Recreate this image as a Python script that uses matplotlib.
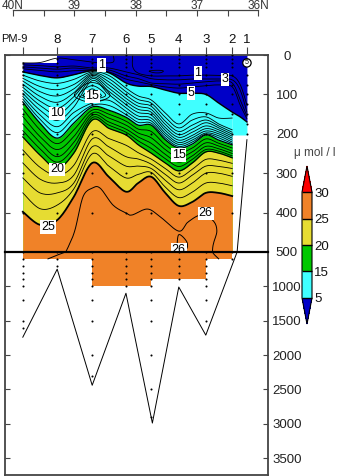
import numpy as np
import matplotlib
matplotlib.use("Agg")
from matplotlib import pyplot as plt
from matplotlib.colors import ListedColormap, BoundaryNorm
from matplotlib.cm import ScalarMappable

plt.rcParams['font.family'] = ['Liberation Sans', 'DejaVu Sans']

W, H = 352, 476

# stations (latitude, north)
station_names = ['', '8', '7', '6', '5', '4', '3', '2', '1']
station_lat = [39.84, 39.28, 38.71, 38.16, 37.75, 37.30, 36.86, 36.43, 36.19]

# latitude of the columns the isolines were read at
cols = [39.84, 39.56, 39.28, 39.01, 38.71, 38.44, 38.16, 37.96, 37.75, 37.52, 37.30, 37.08, 36.86, 36.65, 36.43]
cols_ext = cols + [36.30, 36.19]

# depth (m) of each isoline
L2 = [25, 27, 30, 28, 33, 33, 43, 50, 60, 63, 63, 61, 61, 61, 63, 89, 145]
L3 = [30, 33, 36, 33, 37, 38, 53, 60, 71, 73, 74, 71, 68, 66, 71, 114, 155]
L4 = [35, 39, 43, 40, 39, 43, 61, 68, 75, 81, 84, 81, 78, 76, 81, 127, 162]
L5 = [43, 52, 58, 50, 40, 45, 71, 79, 80, 89, 97, 97, 100, 122, 145, 157, 170]

iso = {
    6: [51, 66, 72, 62, 43, 52, 84, 104, 114, 147, 175, 150, 147, 160, 160],
    7: [59, 80, 88, 75, 46, 60, 93, 113, 122, 158, 185, 165, 157, 175, 190],
    8: [66, 93, 104, 86, 49, 68, 102, 122, 130, 168, 194, 178, 165, 180, 196],
    9: [74, 105, 120, 96, 52, 76, 110, 130, 138, 176, 202, 188, 172, 185, 201],
    10: [82, 117, 135, 106, 56, 84, 118, 138, 145, 184, 209, 196, 180, 190, 206],
    11: [90, 128, 150, 118, 60, 92, 126, 146, 152, 191, 216, 204, 187, 195, 211],
    12: [97, 140, 166, 132, 65, 100, 134, 155, 160, 198, 222, 210, 193, 200, 216],
    13: [105, 152, 182, 146, 122, 115, 143, 163, 167, 204, 227, 216, 198, 205, 221],
    14: [112, 163, 197, 160, 128, 128, 151, 171, 173, 210, 232, 221, 201, 210, 225],
    15: [119, 173, 211, 173, 132, 140, 158, 178, 178, 215, 236, 226, 203, 216, 228],
    16: [137, 190, 225, 190, 140, 150, 168, 188, 194, 228, 248, 236, 213, 224, 236],
    17: [156, 207, 240, 207, 147, 160, 178, 198, 210, 240, 260, 246, 223, 231, 244],
    18: [175, 222, 258, 222, 153, 170, 188, 208, 224, 252, 272, 256, 232, 238, 250],
    19: [192, 238, 272, 236, 159, 178, 196, 218, 237, 263, 283, 265, 240, 244, 256],
    20: [208, 254, 287, 249, 165, 186, 203, 228, 249, 274, 294, 274, 246, 249, 261],
    21: [241, 285, 305, 280, 195, 212, 229, 248, 264, 288, 310, 290, 265, 267, 275],
    22: [274, 315, 325, 305, 213, 233, 258, 264, 277, 303, 325, 305, 282, 283, 288],
    23: [312, 350, 350, 325, 233, 256, 282, 282, 288, 318, 342, 325, 300, 300, 308],
    24: [350, 390, 381, 340, 251, 282, 312, 303, 298, 335, 362, 348, 325, 325, 332],
    25: [398, 431, 419, 360, 274, 309, 347, 325, 309, 350, 383, 373, 350, 350, 358],
}

# level 1 comes in two pieces, both reach the surface
l1_left_lat = [39.84, 39.56, 39.28, 39.01, 38.71, 38.58, 38.37, 38.37]
l1_left_d = [20, 19, 8, 12, 18, 20, 18, 0]
l1_right_lat = [38.05, 38.05, 37.96, 37.75, 37.52, 37.30, 37.08, 36.86, 36.65, 36.43, 36.30, 36.19]
l1_right_d = [0, 30, 46, 53, 53, 53, 51, 51, 52, 53, 75, 127]

# closed loops
core_lat = [
    [39.00, 38.86, 38.71, 38.56, 38.42, 38.56, 38.71, 38.86],
    [38.93, 38.82, 38.71, 38.60, 38.49, 38.60, 38.71, 38.82],
    [38.86, 38.78, 38.71, 38.64, 38.56, 38.64, 38.71, 38.78],
]
core_d = [
    [102, 78, 70, 78, 102, 116, 118, 116],
    [102, 85, 78, 85, 102, 110, 112, 110],
    [103, 92, 86, 92, 103, 107, 108, 107],
]
blob_lat = [37.78, 37.70, 37.60, 37.55, 37.60, 37.70]
blob_d = [41, 39, 39, 41, 45, 45]
l26_blob_lat = [37.33, 37.30, 37.17, 37.18, 37.33]
l26_blob_d = [490, 456, 474, 493, 490]

l26_lat = [39.43, 39.28, 39.10, 38.99, 38.86, 38.71, 38.58, 38.37, 38.16, 38.06, 37.81, 37.60, 37.30,
           37.15, 36.94, 36.75, 36.68, 36.75, 36.65]
l26_d = [600, 545, 487, 444, 360, 338, 338, 381, 401, 406, 391, 411, 447, 424, 406, 419, 447, 500, 600]

# bottom
bottom_lat = [39.84, 39.28, 38.71, 38.16, 37.73, 37.30, 36.86, 36.35, 36.19]
bottom_d = [1740, 750, 2440, 1100, 2990, 1010, 1710, 500, 215]

# lower limit of the sections below 500 m
deep_edges = [39.84, 38.71, 37.75, 36.86, 36.43]
deep_limit = [600, 1000, 900, 600]

sample_depth = [
    [20, 30, 40, 50, 75, 100, 125, 150, 200, 250, 300, 400, 500, 600, 700, 800, 900, 1000, 1200, 1500, 1600],
    [10, 20, 30, 50, 75, 100, 125, 150, 200, 250, 300, 400, 500, 600, 700],
    [10, 20, 30, 40, 50, 75, 100, 125, 150, 200, 300, 400, 500, 600, 700, 800, 900, 1000, 1200, 1500, 2000, 2300],
    [0, 10, 20, 30, 50, 75, 100, 125, 150, 200, 300, 400, 500, 600, 700, 800, 900, 1000],
    [0, 10, 20, 30, 50, 75, 100, 125, 150, 200, 300, 400, 500, 600, 700, 800, 900, 1000, 1200, 1500, 2000, 2500, 2900],
    [0, 10, 20, 30, 50, 75, 100, 125, 150, 200, 300, 400, 500, 600, 700, 800, 900],
    [0, 10, 20, 30, 50, 75, 100, 125, 150, 200, 300, 400, 500, 600, 700, 800, 900, 1000, 1200, 1500],
    [0, 10, 20, 30, 50, 75, 100, 125, 150, 200, 300, 400, 500, 600],
    [50, 75, 100, 125, 150, 175, 200],
]

lat_ticks = [40, 39.5, 39, 38.5, 38, 37.5, 37, 36.5, 36]
lat_labels = ['40N', '', '39', '', '38', '', '37', '', '36N']
upper_ticks = [0, 100, 200, 300, 400, 500]
lower_ticks = [1000, 1500, 2000, 2500, 3000, 3500]

bar_levels = [5, 15, 20, 25, 30]
bar_colors = ['#0000C8', '#40FFFF', '#00C800', '#E6DC32', '#F08228', '#FF0000']

labels = [
    (38.56, 26, '1'), (36.99, 46, '1'), (36.55, 62, '3'), (37.10, 97, '5'), (38.71, 105, '15'),
    (39.28, 148, '10'), (39.28, 290, '20'), (39.43, 437, '25'), (37.30, 254, '15'), (36.86, 402, '26'),
    (37.30, 494, '26'),
]

BLUE, CYAN, GREEN, YELLOW, ORANGE, RED = bar_colors


def axes_px(left, top, right, bottom):
    return fig.add_axes([left / W, 1 - bottom / H, (right - left) / W, (bottom - top) / H])


def smooth(x, y, closed=False, n=12):
    # catmull-rom through the points
    x, y = np.asarray(x, float), np.asarray(y, float)
    if closed:
        p = np.column_stack([np.r_[x[-1], x, x[0], x[1]], np.r_[y[-1], y, y[0], y[1]]])
    else:
        p = np.column_stack([np.r_[x[0], x, x[-1]], np.r_[y[0], y, y[-1]]])
    t = np.linspace(0, 1, n, endpoint=False)[:, None]
    out = []
    for i in range(1, len(p) - 2):
        out.append(0.5 * (2 * p[i] + (p[i + 1] - p[i - 1]) * t
                          + (2 * p[i - 1] - 5 * p[i] + 4 * p[i + 1] - p[i + 2]) * t ** 2
                          + (3 * p[i] - p[i - 1] - 3 * p[i + 1] + p[i + 2]) * t ** 3))
    out = np.vstack(out + [p[-2][None, :]])
    return out[:, 0], out[:, 1]


fig = plt.figure(figsize=(W / 100, H / 100), dpi=100)

up = axes_px(5, 55, 267.5, 252)
lo = axes_px(5, 252, 267.5, 475)
xlim = (40.13, 35.855)
up.set_xlim(xlim)
up.set_ylim(500, 0)
lo.set_xlim(xlim)
lo.set_ylim(3746, 500)

# filled bands, deepest one painted last
xs, d5 = smooth(cols_ext, L5)
up.fill_between(xs, 0, d5, color=BLUE, lw=0, zorder=1)
up.fill_between([39.84, 39.28], 0, 20, color='white', lw=0, zorder=1.1)
keep = xs >= cols[-1]
up.fill_between(xs[keep], d5[keep], 500, color=CYAN, lw=0, zorder=1)
up.fill_between(xs[xs <= cols[-1]], d5[xs <= cols[-1]], 203, color=CYAN, lw=0, zorder=1)
for level, c in [(15, GREEN), (20, YELLOW), (25, ORANGE)]:
    x, d = smooth(cols, iso[level])
    up.fill_between(x, d, 500, color=c, lw=0, zorder=1.2)

lo.fill_between(deep_edges, 500, deep_limit + deep_limit[-1:], step='post', color=ORANGE, lw=0, zorder=1)

# isolines
for level, d in iso.items():
    x, y = smooth(cols, d)
    lw = 1.3 if level == 25 else 0.9 if level in (15, 20) else 0.6
    up.plot(x, y, color='k', lw=lw, zorder=2)
for d, w in [(L2, 0.6), (L3, 0.6), (L4, 0.6), (L5, 1.0)]:
    x, y = smooth(cols_ext, d)
    up.plot(x, y, color='k', lw=w, zorder=2)
for a, b in [(l1_left_lat, l1_left_d), (l1_right_lat, l1_right_d), (blob_lat, blob_d)]:
    x, y = smooth(a, b, closed=a is blob_lat)
    up.plot(x, y, color='k', lw=0.6, zorder=2)
for a, b in zip(core_lat, core_d):
    x, y = smooth(a, b, closed=True)
    up.plot(x, y, color='k', lw=0.6, zorder=2)
x, y = smooth(l26_blob_lat, l26_blob_d)
up.plot(x, y, color='k', lw=0.7, zorder=2)

x, y = smooth(l26_lat, l26_d)
up.plot(x, y, color='k', lw=0.7, zorder=2)
lo.plot(x, y, color='k', lw=0.7, zorder=2)

up.plot(bottom_lat, bottom_d, color='k', lw=0.7, zorder=2)
lo.plot(bottom_lat, bottom_d, color='k', lw=0.7, zorder=2)

# sample depths
for lat, depths in zip(station_lat, sample_depth):
    up.scatter([lat] * len(depths), depths, s=2.2, color='k', lw=0, zorder=3, clip_on=True)
    lo.scatter([lat] * len(depths), depths, s=2.2, color='k', lw=0, zorder=3, clip_on=True)

# ring at the shallow end of station 1
up.text(36.19, 20, '5', fontsize=5, ha='center', va='center', zorder=4,
        bbox=dict(boxstyle='circle,pad=0.1', fc='white', ec='k', lw=0.9))

for lat, depth, s in labels:
    up.text(lat, depth, s, fontsize=9, ha='center', va='center', zorder=4, clip_on=True,
            bbox=dict(fc='white', ec='none', pad=0.5))

# axes furniture
for ax in (up, lo):
    for side in ax.spines.values():
        side.set_color('#444444')
        side.set_linewidth(1.3)
    ax.tick_params(axis='y', which='both', left=True, right=True, direction='in', length=3.6, width=0.8,
                   color='#444444', labelleft=False, labelright=True, labelsize=9.5, labelcolor='#222222', pad=14)
up.spines['bottom'].set_visible(False)
lo.spines['top'].set_color('k')
lo.spines['top'].set_linewidth(1.6)
up.set_yticks(upper_ticks)
lo.set_yticks(lower_ticks)
for ax in (up, lo):
    for t in ax.get_yticklabels():
        t.set_ha('center')

up.xaxis.tick_top()
up.set_xticks(station_lat)
up.set_xticklabels(station_names)
up.tick_params(axis='x', direction='out', length=5.8, width=0.8, color='#444444', pad=1, labelsize=9.5, labelcolor='#111111')
lo.set_xticks([])
fig.text(1 / W, 1 - 39 / H, 'PM-9', fontsize=8, color='#111111', ha='left', va='center')

top = axes_px(13, 10, 258.4, 16)
top.set_xlim(40, 36)
top.set_ylim(0, 1)
top.patch.set_alpha(0)
for name, side in top.spines.items():
    side.set_visible(name == 'top')
    side.set_color('#444444')
    side.set_linewidth(0.9)
top.xaxis.tick_top()
top.set_xticks(lat_ticks)
top.set_xticklabels(lat_labels)
top.set_yticks([])
top.tick_params(axis='x', direction='in', length=4.3, width=0.8, color='#444444', pad=1, labelsize=8.5, labelcolor='#333333')
for t in top.get_xticklabels():
    t.set_va('baseline')

# colour key
cax = axes_px(302, 166, 312, 324)
cmap = ListedColormap(bar_colors[1:5]).with_extremes(under=BLUE, over=RED)
norm = BoundaryNorm(bar_levels, cmap.N)
cb = fig.colorbar(ScalarMappable(norm=norm, cmap=cmap), cax=cax, extend='both', extendfrac=0.2464,
                  spacing='uniform', drawedges=True, ticks=bar_levels)
cb.outline.set_linewidth(0.8)
cb.dividers.set_linewidth(1.0)
cb.dividers.set_color('k')
cax.tick_params(length=0, labelsize=9.5, pad=1.5, labelcolor='#111111')
fig.text(315 / W, 1 - 153 / H, 'μ mol / l', fontsize=8.5, color='#444444', ha='center', va='center')

fig.savefig('out.png', dpi=100)
